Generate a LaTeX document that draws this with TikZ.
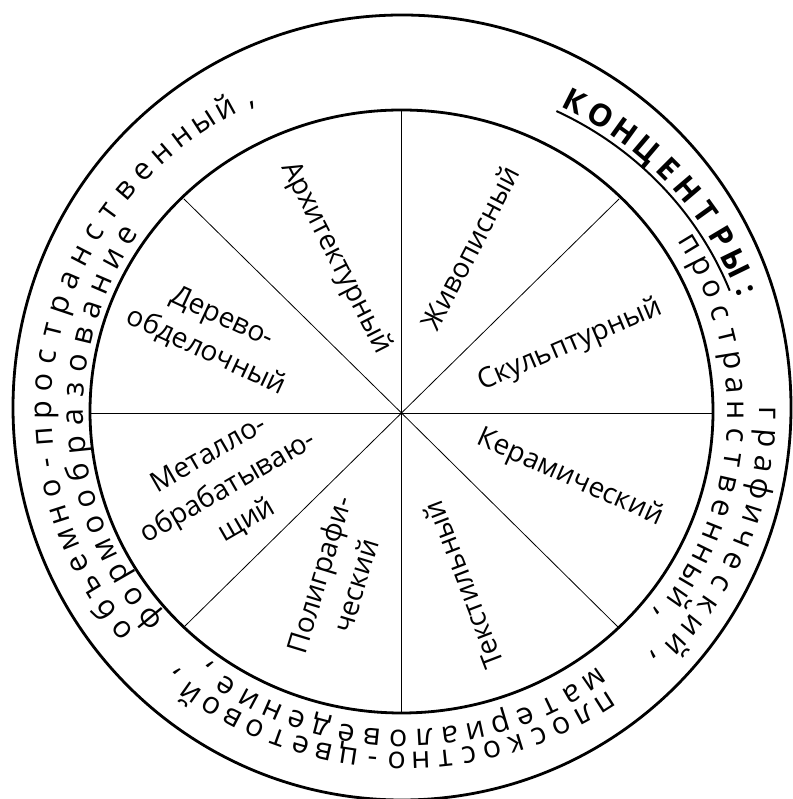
\documentclass[tikz,border=0pt]{standalone}
\usepackage{fontspec}
\setmainfont{Open Sans}
\newcommand\labfont{\fontsize{28}{38}\selectfont}
\newcommand\ringfont{\fontsize{30.5}{34}\selectfont}
\newcommand\ringbold{\fontsize{31}{34}\selectfont\bfseries}
\newcommand\cm{,}
\def\ringcx{405.5}
\def\ringcy{387}
\newlength\chw
% #1 name, #2 rx, #3 ry, #4 polar angle of first char, #5 polar angle of last char, #6 font, #7 chars
\newcommand\ringword[7]{%
 \gdef\rwtot{0}\gdef\rwn{0}%
 \foreach \ch in {#7}{%
   \settowidth{\chw}{#6\ch}%
   \pgfmathsetmacro\rwtmp{\rwtot+\chw}\xdef\rwtot{\rwtmp}%
   \pgfmathtruncatemacro\rwtmpn{\rwn+1}\xdef\rwn{\rwtmpn}%
   \ifnum\rwn=1 \xdef\rwfirst{\the\chw}\fi
   \xdef\rwlast{\the\chw}%
 }%
 \pgfmathsetmacro\rwR{(#2+#3)/2}\xdef\rwR{\rwR}%
 \pgfmathsetmacro\rwarc{(#4-(#5))*pi/180*\rwR}%
 \pgfmathsetmacro\rwtrk{(\rwarc-(\rwtot-\rwfirst/2-\rwlast/2))/(\rwn-1)}\xdef\rwtrk{\rwtrk}%
 \gdef\rwcur{0}%
 \foreach \ch [count=\i] in {#7}{%
   \settowidth{\chw}{#6\ch}%
   \pgfmathsetmacro\rwmid{\rwcur+\chw/2-\rwfirst/2}%
   \pgfmathsetmacro\rwphi{#4-\rwmid/\rwR*180/pi}%
   \pgfmathsetmacro\rwt{atan2(#2*sin(\rwphi),#3*cos(\rwphi))}%
   \pgfmathsetmacro\rwrot{atan2(#2*sin(\rwt),#3*cos(\rwt))-90}%
   \node[ringch, font=#6, rotate=\rwrot] (#1-\i) at ({\ringcx+#2*cos(\rwt)},{\ringcy+#3*sin(\rwt)}) {\ch};%
   \pgfmathsetmacro\rwtmp{\rwcur+\chw+\rwtrk}\xdef\rwcur{\rwtmp}%
 }%
}
\tikzset{
  ringch/.style={anchor=base, inner sep=0pt, outer sep=0pt},
  lab/.style={font=\labfont, align=center, inner sep=0pt},
  circ/.style={line width=2.8pt},
  spoke/.style={line width=0.8pt},
}
\begin{document}
\begin{tikzpicture}[x=1pt,y=1pt]
\useasboundingbox (0,0) rectangle (792,799);
\fill[white] (0,0) rectangle (792,799);
% circles
\draw[circ] (402,391.5) ellipse[x radius=389, y radius=392.5];
\draw[circ] (401.5,387.5) ellipse[x radius=311.5, y radius=301.5];
% spokes
\coordinate (C) at (401.5,386);
\coordinate (pE) at (713,386);
\coordinate (pW) at (90,386);
\coordinate (pN) at (401.5,689);
\coordinate (pS) at (401.5,86);
\coordinate (pNE) at (619,600);
\coordinate (pNW) at (184,600);
\coordinate (pSE) at (619,171);
\coordinate (pSW) at (184,172);
\foreach \p in {pE,pW,pN,pS,pNE,pNW,pSE,pSW} \draw[spoke] (C) -- (\p);
% sector labels
\node[lab, rotate=-63] (arch) at (336,541) {Архитектурный};
\node[lab, rotate=62.6] (zhiv) at (470,551) {Живописный};
\node[lab, rotate=23] (skul) at (570,454) {Скульптурный};
\node[lab, rotate=-24] (ker) at (570,321) {Керамический};
\node[lab, rotate=111] (tekst) at (463,214) {Текстильный};
\node[lab, rotate=73] (poli) at (337,219) {Полиграфи-\\ческий};
\node[lab, rotate=30] (metal) at (228,311) {Металло-\\обрабатываю-\\щий};
\node[lab, rotate=-25] (derev) at (214,464) {Дерево-\\обделочный};
% ring texts, outer line
\ringword{wa}{354}{340}{217.5}{116.5}{\ringfont}{о,б,ъ,е,м,н,о,-,п,р,о,с,т,р,а,н,с,т,в,е,н,н,ы,й,\cm}
\ringword{wb}{354}{340}{61.3}{19.6}{\ringbold}{К,О,Н,Ц,Е,Н,Т,Р,Ы,:}
\ringword{wc}{354}{340}{-0.2}{-44.6}{\ringfont}{г,р,а,ф,и,ч,е,с,к,и,й,\cm}
\ringword{wd}{354}{340}{-55.5}{-131.4}{\ringfont}{п,л,о,с,к,о,с,т,н,о,-,ц,в,е,т,о,в,о,й,\cm}
% inner line
\ringword{we}{322}{318}{30.5}{-38.5}{\ringfont}{п,р,о,с,т,р,а,н,с,т,в,е,н,н,ы,й,\cm}
\ringword{wf}{322}{318}{-54.8}{-127.8}{\ringfont}{м,а,т,е,р,и,а,л,о,в,е,д,е,н,и,е,\cm}
\ringword{wg}{322}{318}{218.9}{147.7}{\ringfont}{ф,о,р,м,о,о,б,р,а,з,о,в,а,н,и,е}
% underline of КОНЦЕНТРЫ
\draw[line width=2pt] ({\ringcx+348*cos(64.3)},{\ringcy+334*sin(64.3)}) arc[start angle=64.3, end angle=21.3, x radius=348, y radius=334];
\end{tikzpicture}
\end{document}
